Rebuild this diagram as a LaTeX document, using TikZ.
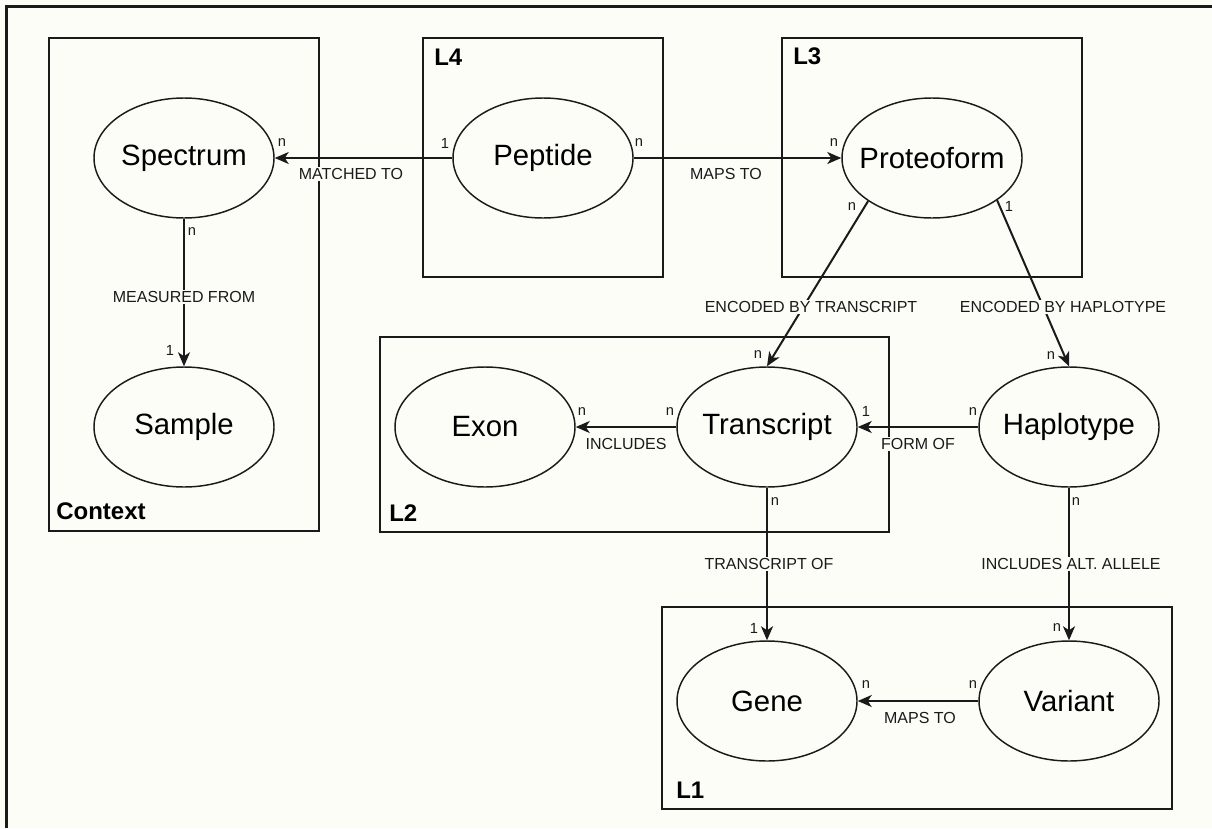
\documentclass[tikz,border=0pt]{standalone}
\usepackage{fontspec}
\setmainfont{Liberation Sans}
\usetikzlibrary{shapes.geometric,arrows.meta}
\definecolor{paper}{RGB}{253,253,248}
\definecolor{ink}{RGB}{26,26,26}
\tikzset{
  entity/.style={ellipse,draw=ink,line width=1.1pt,fill=paper,minimum width=135pt,
    minimum height=90pt,inner sep=0pt,font=\fontsize{22}{24}\selectfont},
  relation/.style={draw=ink,line width=1.5pt,-{Stealth[length=10.5pt,width=9pt,inset=3pt]}},
  elabel/.style={fill=paper,inner sep=1.2pt,text=ink,font=\fontsize{12}{14}\selectfont},
  card/.style={inner sep=0pt,text=ink,font=\fontsize{11}{12}\selectfont},
  layer/.style={draw=ink,line width=1.5pt},
  layername/.style={anchor=west,inner sep=0pt,font=\fontsize{18}{20}\selectfont\bfseries},
}
\begin{document}
\begin{tikzpicture}[x=0.75pt,y=-0.75pt]
  % page and outer frame (pixel coordinates, y downwards)
  \fill[paper] (0,0) rectangle (1212,828);
  \useasboundingbox (0,0) rectangle (1212,828);
  \draw[ink,line width=2.2pt] (6.5,828) -- (6.5,6.5) -- (1212,6.5);

  %% the layers
  \draw[layer] (49,38) rectangle (319,531);
  \draw[layer] (423,38) rectangle (663,277);
  \draw[layer] (782,38) rectangle (1082,277);
  \draw[layer] (380,337) rectangle (889,532);
  \draw[layer] (662,607) rectangle (1172,809);
  \node[layername] (ctxname) at (56,511) {Context};
  \node[layername] (lfour) at (434,57) {L4};
  \node[layername] (lthree) at (793,56) {L3};
  \node[layername] (ltwo) at (389,513) {L2};
  \node[layername] (lone) at (676,790) {L1};

  %% the entities (zero-width text box, so the ellipse keeps its size)
  \foreach \n/\x/\y/\t in {spec/184/158/Spectrum, pep/543/158/Peptide, prot/932/158/Proteoform,
    samp/184/427/Sample, exon/485/427/Exon, trans/767/427/Transcript, hap/1069/427/Haplotype,
    gene/767/701/Gene, var/1069/701/Variant}
    \node[entity] (\n) at (\x,\y) {\makebox[0pt]{\t}};

  %% the relations
  \draw[relation] (pep) -- (spec);
  \draw[relation] (pep) -- (prot);
  \draw[relation] (spec) -- (samp);
  \draw[relation] (prot.214) -- (trans.north);
  \draw[relation] (prot.-33) -- (hap.north);
  \draw[relation] (hap) -- (trans);
  \draw[relation] (trans) -- (exon);
  \draw[relation] (trans) -- (gene);
  \draw[relation] (hap) -- (var);
  \draw[relation] (var) -- (gene);

  % relation names
  \foreach \nm/\x/\y/\t in {matched/351/174/MATCHED TO, mapspep/726/174/MAPS TO,
    measured/184/297/MEASURED FROM, enctrans/811/307/ENCODED BY TRANSCRIPT,
    enchap/1063/307/ENCODED BY HAPLOTYPE, incl/626/444/INCLUDES, formof/918/444/FORM OF,
    trof/769/564/TRANSCRIPT OF, altall/1071/564/INCLUDES ALT. ALLELE, mapsvar/920/718/MAPS TO}
    \node[elabel] (\nm) at (\x,\y) {\t};

  % cardinalities
  \foreach \i/\x/\y/\t in {1/282/143/n, 2/445/143/1, 3/639/143/n, 4/834/143/n,
    5/192/232/n, 6/170/350/1, 7/852/207/n, 8/1009/206/1, 9/758/355/n, 10/1051/356/n,
    11/582/412/n, 12/670/412/n, 13/866/411/1, 14/973/412/n, 15/775/502/n, 16/1076/502/n,
    17/754/628/1, 18/1057/628/n, 19/866/685/n, 20/973/685/n}
    \node[card] (card\i) at (\x,\y) {\t};
\end{tikzpicture}
\end{document}
